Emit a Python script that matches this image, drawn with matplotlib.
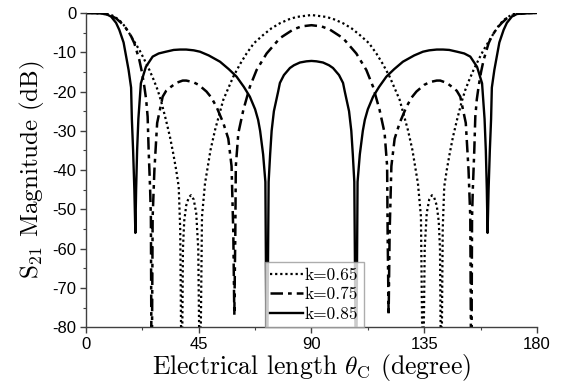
import numpy as np
import matplotlib
matplotlib.use("Agg")
import matplotlib.pyplot as plt
from matplotlib.ticker import MultipleLocator

# values (deg, dB); nulls that leave the axis are set to -100
k065_x_left = [0, 4, 8, 9.2, 11, 13.3, 15, 17.3, 19, 21.3, 23, 25.3, 27, 28.6, 30, 31.9, 33.5, 34.8, 36, 37,
               37.6, 38.2, 38.7, 39.2, 40, 41, 41.9, 43, 44, 44.8, 45.5, 46.3, 47.5, 49.7, 51.5, 54.8, 58.8, 61.5,
               64.1, 67, 70.7, 74, 77.4, 81, 84, 87, 90]
k065_y_left = [0, 0, -0.1, -0.2, -0.8, -1.8, -3, -5.2, -7, -9.4, -11.5, -14.5, -17, -19.6, -22.5, -27.2, -31.5,
               -35.7, -40, -44.2, -55, -100, -60, -53, -49, -47, -46.4, -47.5, -51, -60, -100, -51.8, -43.4, -34.9,
               -29.8, -22.1, -16.2, -13, -10.3, -7.7, -5.6, -3.9, -2.6, -1.6, -1.0, -0.75, -0.5]
k065_x_right = [93, 96, 99, 102.6, 106, 109.3, 113, 115.9, 118.5, 121.2, 125.2, 128.5, 130.3, 132.5, 133.7, 134.5,
                135.2, 136, 137, 138.1, 139, 140, 140.8, 141.3, 141.8, 142.4, 143, 144, 145.2, 146.5, 148.1, 150,
                151.4, 153, 154.7, 157, 158.7, 161, 162.7, 165, 166.7, 169, 170.8, 172, 176, 180]
k065_y_right = [-0.75, -1.0, -1.6, -2.6, -3.9, -5.6, -7.7, -10.3, -13, -16.2, -22.1, -29.8, -34.9, -43.4, -51.8,
                -100, -60, -51, -47.5, -46.4, -47, -49, -53, -60, -100, -55, -44.2, -40, -35.7, -31.5, -27.2, -22.5,
                -19.6, -17, -14.5, -11.5, -9.4, -7, -5.2, -3, -1.8, -0.8, -0.2, -0.1, 0, 0]

k075_x_left = [0, 4, 8, 10, 12, 14, 16, 18, 19.3, 21.3, 22.3, 23.3, 24, 24.6, 25, 25.6, 25.9, 26.2, 26.6, 27.3,
               28.4, 30.6, 32, 33.9, 36, 38.6, 40, 42.8, 45, 48.1, 50, 52.1, 54.8, 56.8, 58.1, 58.8, 59.2, 59.6,
               59.8, 60.8, 62.8, 65.4, 68.1, 72.1, 77.4, 82.7, 86, 90]
k075_y_left = [0, -0.02, -0.3, -0.7, -1.35, -2.5, -3.9, -5.9, -7.7, -12, -15, -18.8, -22, -26.4, -34.9, -45, -52,
               -100, -52, -40, -28, -21.3, -19.8, -18.8, -17.8, -17.2, -17.2, -17.6, -18.3, -20, -21.5, -23.9, -28,
               -32, -39, -56, -77, -56, -39, -30.6, -24.7, -18.8, -14.5, -10.3, -6.4, -4.2, -3.4, -3.1]
k075_x_right = [94, 97.3, 102.6, 107.9, 111.9, 114.6, 117.2, 119.2, 120.2, 120.4, 120.8, 121.2, 121.9, 123.2, 125.2,
                127.9, 130, 131.9, 135, 137.2, 140, 141.4, 144, 146.1, 148, 149.4, 151.6, 152.7, 153.4, 153.8, 154.1,
                154.4, 155, 155.4, 156, 156.7, 157.7, 158.7, 160.7, 162, 164, 166, 168, 170, 172, 176, 180]
k075_y_right = [-3.4, -4.2, -6.4, -10.3, -14.5, -18.8, -24.7, -30.6, -39, -56, -77, -56, -39, -32, -28, -23.9, -21.5,
                -20, -18.3, -17.6, -17.2, -17.2, -17.8, -18.8, -19.8, -21.3, -28, -40, -52, -100, -52, -45, -34.9,
                -26.4, -22, -18.8, -15, -12, -7.7, -5.9, -3.9, -2.5, -1.35, -0.7, -0.3, -0.02, 0]

k085_x_left = [0, 4, 8, 10, 12, 13.3, 15, 16, 17, 18, 18.3, 18.8, 19.3, 19.7, 20.0, 20.4, 20.9, 21.9, 23.9, 26.6,
               29, 31.9, 35, 37.5, 40, 43, 45.5, 49, 53.5, 57, 60.1, 63, 65.4, 67.5, 68.7, 69.5, 70.7, 71.6, 72.2,
               72.9, 73.5, 74.1, 75, 76.7, 77.4, 79, 81.4, 83, 85.4, 88, 90]
k085_y_left = [0, -0.02, -0.25, -0.9, -2.5, -4.3, -7.5, -11, -14.5, -19, -27, -35, -45, -56, -45, -35, -27, -17.9,
               -13.7, -11.1, -10.3, -9.85, -9.4, -9.3, -9.3, -9.5, -9.85, -10.8, -12.4, -14.3, -16.2, -18.8, -21.3,
               -24.5, -27.2, -30, -36, -43, -100, -43, -36, -30, -25, -20, -17.8, -15.8, -14, -13.3, -12.6, -12.3,
               -12.2]
k085_x_right = [92, 94.6, 97, 98.6, 101, 102.6, 103.3, 105, 105.9, 106.5, 107.1, 107.8, 108.4, 109.3, 110.5, 111.3,
                112.5, 114.6, 117, 119.9, 123, 126.5, 131, 134.5, 137, 140, 142.5, 145, 148.1, 151, 153.4, 156.1,
                158.1, 159.1, 159.6, 160, 160.3, 160.7, 161.2, 161.7, 162, 163, 164, 165, 166.7, 168, 170, 172,
                176, 180]
k085_y_right = [-12.3, -12.6, -13.3, -14, -15.8, -17.8, -20, -25, -30, -36, -43, -100, -43, -36, -30, -27.2, -24.5,
                -21.3, -18.8, -16.2, -14.3, -12.4, -10.8, -9.85, -9.5, -9.3, -9.3, -9.4, -9.85, -10.3, -11.1, -13.7,
                -17.9, -27, -35, -45, -56, -45, -35, -27, -19, -14.5, -11, -7.5, -4.3, -2.5, -0.9, -0.25, -0.02, 0]

labels = ["k=0.65", "k=0.75", "k=0.85"]

plt.rcParams['mathtext.fontset'] = 'cm'
plt.rcParams['font.family'] = ['Liberation Sans', 'DejaVu Sans']
plt.rcParams['axes.unicode_minus'] = False

fig = plt.figure(figsize=(5.64, 3.89), dpi=100)
ax = fig.add_axes([0.1525, 0.159, 0.7995, 0.8075])

ax.plot(k065_x_left + k065_x_right, k065_y_left + k065_y_right, color='black', lw=1.6,
        linestyle=(0, (1, 1.3)), label=labels[0])
ax.plot(k075_x_left + k075_x_right, k075_y_left + k075_y_right, color='black', lw=1.8,
        linestyle=(0, (5, 2, 1.5, 2)), label=labels[1])
ax.plot(k085_x_left + k085_x_right, k085_y_left + k085_y_right, color='black', lw=1.7,
        linestyle='-', label=labels[2])

ax.set_xlim(0, 180)
ax.set_ylim(-80, 0)
ax.xaxis.set_major_locator(MultipleLocator(45))
ax.xaxis.set_minor_locator(MultipleLocator(22.5))
ax.yaxis.set_major_locator(MultipleLocator(10))
ax.yaxis.set_minor_locator(MultipleLocator(5))

for s in ['top', 'right']:
    ax.spines[s].set_visible(False)
for s in ['left', 'bottom']:
    ax.spines[s].set_color('#404040')
    ax.spines[s].set_linewidth(1.0)

ax.tick_params(which='major', direction='out', length=4, width=1, color='#404040', pad=3,
               labelsize=12)
ax.tick_params(which='minor', direction='out', length=2.5, width=0.8, color='#404040')

ax.set_xlabel(r'Electrical length $\theta_{\mathrm{C}}$ (degree)', fontfamily='cmr10', fontsize=18.5, labelpad=0)
ax.set_ylabel(r'S$_{21}$ Magnitude (dB)', fontfamily='cmr10', fontsize=18, labelpad=4)

leg = ax.legend(loc='lower left', bbox_to_anchor=(0.397, 0.0), borderaxespad=0,
                prop={'family': 'cmr10', 'size': 12.5}, frameon=True, fancybox=False,
                handlelength=1.9, handletextpad=0.1, borderpad=0.3, labelspacing=0.25)
leg.get_frame().set_edgecolor('#999999')
leg.get_frame().set_linewidth(1.0)

fig.savefig('out.png', dpi=100)
